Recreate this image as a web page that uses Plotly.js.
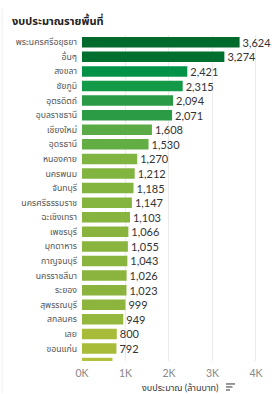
<!DOCTYPE html>
<html>
<head>
<meta charset="utf-8">
<script src="https://cdn.plot.ly/plotly-3.0.1.min.js"></script>
<style>
html,body{margin:0;padding:0;background:#fff;}
#chart{width:274px;height:394px;}
</style>
</head>
<body>
<div id="chart"></div>
<script>
// ---- data ----
var provinces = ["พระนครศรีอยุธยา","อื่นๆ","สงขลา","ชัยภูมิ","อุตรดิตถ์","อุบลราชธานี","เชียงใหม่","อุดรธานี","หนองคาย","นครพนม","จันทบุรี","นครศรีธรรมราช","ฉะเชิงเทรา","เพชรบุรี","มุกดาหาร","กาญจนบุรี","นครราชสีมา","ระยอง","สุพรรณบุรี","สกลนคร","เลย","ขอนแก่น","แพร่"];
var budget = [3624,3274,2421,2315,2094,2071,1608,1530,1270,1212,1185,1147,1103,1066,1055,1043,1026,1023,999,949,800,792,700];
var xTickVals = [0,1000,2000,3000,4000];
var xTickText = ["0K","1K","2K","3K","4K"];
var chartTitle = "งบประมาณรายพื้นที่";
var xTitle = "งบประมาณ (ล้านบาท)";

// ---- layout constants ----
var W = 274, H = 394;
var mL = 82, mR = 5, mT = 35, mB = 32.5;
var plotW = W - mL - mR, plotH = H - mT - mB;
var FONT = "Lato, 'Noto Sans Thai', 'Noto Sans', 'Open Sans', sans-serif";

// number labels; the last row is cut off by the pane so its label is hidden
var visibleRows = 22;
var labels = budget.map(function(v, i){ return i < visibleRows ? v.toLocaleString('en-US') : ""; });

var trace = {
  type: 'bar',
  orientation: 'h',
  y: provinces,
  x: budget,
  text: labels,
  textposition: 'outside',
  constraintext: 'none',
  cliponaxis: false,
  textfont: {family: FONT, size: 11, color: '#333333'},
  marker: {
    color: budget,
    cmin: 700, cmax: 3624,
    colorscale: [
      [0.0, '#b2c03a'],
      [0.034, '#a8bc3a'],
      [0.11, '#8ab43e'],
      [0.195, '#80b440'],
      [0.31, '#5aab46'],
      [0.477, '#2a9a46'],
      [0.553, '#129a48'],
      [0.589, '#009348'],
      [0.88, '#006f2f'],
      [1.0, '#006a2c']
    ],
    showscale: false,
    line: {width: 0}
  },
  hoverinfo: 'none'
};

// sort icon beside the axis title (three bars, decreasing length)
function px2x(px){ return (px - mL) / plotW; }
function py2y(py){ return (H - mB - py) / plotH; }
var shapes = [];
var iconX = 226, iconY = [384.5, 387.5, 390.5], iconLen = [9, 6.5, 4];
for (var k = 0; k < 3; k++) {
  shapes.push({type:'line', xref:'paper', yref:'paper',
    x0: px2x(iconX), x1: px2x(iconX + iconLen[k]),
    y0: py2y(iconY[k]), y1: py2y(iconY[k]),
    line:{color:'#555555', width:1.2}});
}
// faint pane border on the left
shapes.push({type:'line', xref:'paper', yref:'paper',
  x0: px2x(2), x1: px2x(2), y0: py2y(8), y1: py2y(394),
  line:{color:'#eeeeee', width:1}});

var layout = {
  width: W, height: H,
  margin: {l: mL, r: mR, t: mT, b: mB, pad: 0},
  paper_bgcolor: '#ffffff',
  plot_bgcolor: '#ffffff',
  showlegend: false,
  bargap: 0.28,
  font: {family: FONT, size: 11, color: '#333333'},
  xaxis: {
    range: [0, 4300],
    tickvals: xTickVals,
    ticktext: xTickText,
    showgrid: true,
    gridcolor: '#ebebeb',
    gridwidth: 1,
    zeroline: false,
    showline: false,
    ticks: '',
    ticklabelstandoff: 4,
    tickfont: {family: FONT, size: 10.5, color: '#888888'},
    fixedrange: true
  },
  yaxis: {
    type: 'category',
    range: [visibleRows - 0.14, -0.5],
    tickvals: provinces.slice(0, visibleRows),
    ticktext: provinces.slice(0, visibleRows),
    showgrid: false,
    zeroline: false,
    showline: false,
    ticks: '',
    ticklabelstandoff: 4,
    tickfont: {family: FONT, size: 8.7, color: '#555555'},
    fixedrange: true
  },
  shapes: shapes,
  annotations: [
    {text: '<b>' + chartTitle + '</b>', xref: 'paper', yref: 'paper',
     x: px2x(10), y: py2y(20), xanchor: 'left', yanchor: 'middle',
     showarrow: false, font: {family: FONT, size: 11, color: '#222222'}},
    {text: xTitle, xref: 'paper', yref: 'paper',
     x: px2x(180), y: py2y(388), xanchor: 'center', yanchor: 'middle',
     showarrow: false, font: {family: FONT, size: 9, color: '#333333'}}
  ]
};

Plotly.newPlot('chart', [trace], layout, {displayModeBar: false, staticPlot: true});
</script>
</body>
</html>
